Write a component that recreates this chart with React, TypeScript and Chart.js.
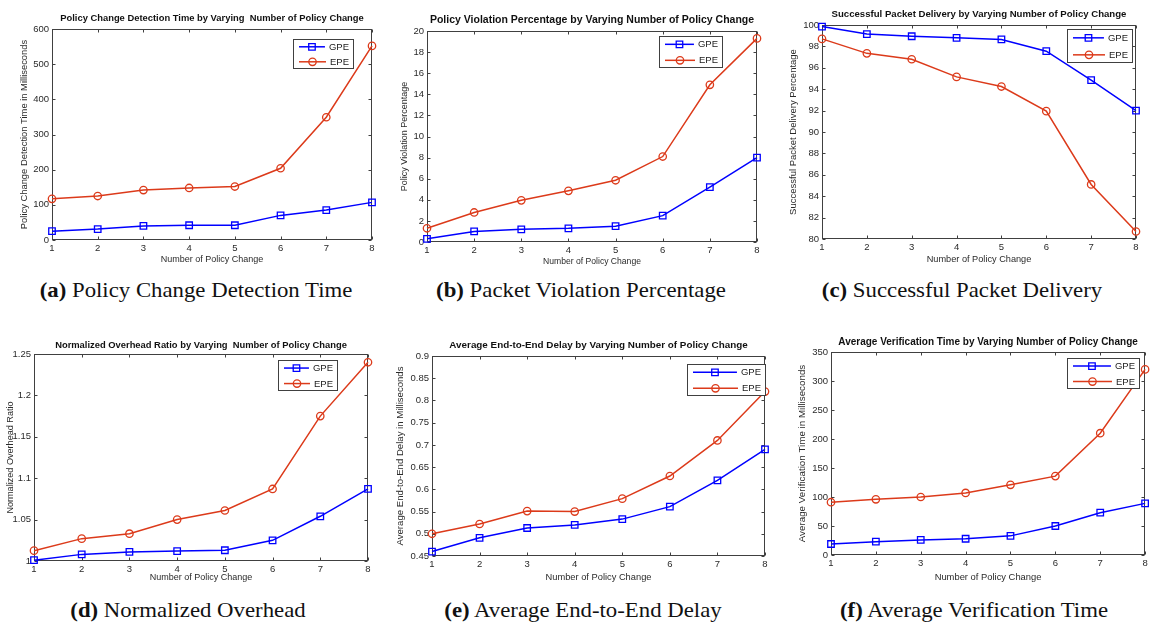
import React, { useEffect, useRef } from 'react';
import { Chart, registerables } from 'chart.js';

Chart.register(...registerables);

// ---------------- data ----------------
const categories = ['1', '2', '3', '4', '5', '6', '7', '8'];
const seriesNames = ['GPE', 'EPE'];

const detectGPE = [25, 31, 40, 42, 42, 70, 85, 107];
const detectEPE = [117, 125, 142, 148, 152, 204, 349, 552];
const detectTicks = [0, 100, 200, 300, 400, 500, 600];

const violationGPE = [0.3, 1.0, 1.2, 1.3, 1.5, 2.5, 5.2, 8.0];
const violationEPE = [1.3, 2.8, 3.95, 4.85, 5.85, 8.1, 14.9, 19.3];
const violationTicks = [0, 2, 4, 6, 8, 10, 12, 14, 16, 18, 20];

const deliveryGPE = [99.85, 99.15, 98.95, 98.8, 98.65, 97.55, 94.85, 92.0];
const deliveryEPE = [98.7, 97.35, 96.8, 95.15, 94.25, 91.95, 85.1, 80.7];
const deliveryTicks = [80, 82, 84, 86, 88, 90, 92, 94, 96, 98, 100];

const overheadGPE = [1.001, 1.008, 1.011, 1.012, 1.013, 1.025, 1.054, 1.087];
const overheadEPE = [1.0125, 1.027, 1.033, 1.05, 1.061, 1.087, 1.175, 1.24];
const overheadTicks = [1, 1.05, 1.1, 1.15, 1.2, 1.25];

const delayGPE = [0.46, 0.491, 0.513, 0.52, 0.533, 0.561, 0.62, 0.69];
const delayEPE = [0.5, 0.522, 0.551, 0.55, 0.579, 0.63, 0.71, 0.82];
const delayTicks = [0.45, 0.5, 0.55, 0.6, 0.65, 0.7, 0.75, 0.8, 0.85, 0.9];

const verifyGPE = [19, 23, 26, 28, 33, 50, 73, 89];
const verifyEPE = [91, 96, 100, 107, 121, 136, 210, 320];
const verifyTicks = [0, 50, 100, 150, 200, 250, 300, 350];

const xAxisTitle = 'Number of Policy Change';

const chartTitles = [
  'Policy Change Detection Time by Varying  Number of Policy Change',
  'Policy Violation Percentage by Varying Number of Policy Change',
  'Successful Packet Delivery by Varying Number of Policy Change',
  'Normalized Overhead Ratio by Varying  Number of Policy Change',
  'Average End-to-End Delay by Varying Number of Policy Change',
  'Average Verification Time by Varying Number of Policy Change',
];

const yAxisTitles = [
  'Policy Change Detection Time in Milliseconds',
  'Policy Violation Percentage',
  'Successful Packet Delivery Percentage',
  'Normalized Overhead Ratio',
  'Average End-to-End Delay in Milliseconds',
  'Average Verification Time in Milliseconds',
];

const captionLetters = ['(a)', '(b)', '(c)', '(d)', '(e)', '(f)'];
const captionTexts = [
  'Policy Change Detection Time',
  'Packet Violation Percentage',
  'Successful Packet Delivery',
  'Normalized Overhead',
  'Average End-to-End Delay',
  'Average Verification Time',
];

const gpeSeries = [detectGPE, violationGPE, deliveryGPE, overheadGPE, delayGPE, verifyGPE];
const epeSeries = [detectEPE, violationEPE, deliveryEPE, overheadEPE, delayEPE, verifyEPE];
const yTickSets = [detectTicks, violationTicks, deliveryTicks, overheadTicks, delayTicks, verifyTicks];

// ---------------- layout (page pixels) ----------------
type Layout = {
  cx: number; cy: number; cw: number; ch: number;
  L: number; T: number; R: number; B: number;
  titleY: number; yTitleX: number; xTitleY: number;
  titleSize: number; yTitleSize: number; xTitleSize: number;
  legend: { x: number; y: number; w: number; h: number };
  capX: number; capY: number;
};

const layouts: Layout[] = [
  { cx: 0, cy: 0, cw: 385, ch: 272, L: 52, T: 29, R: 372, B: 240, titleY: 18, yTitleX: 24, xTitleY: 260,
    titleSize: 9.4, yTitleSize: 9.4, xTitleSize: 9,
    legend: { x: 293, y: 39, w: 61, h: 30 }, capX: 196, capY: 298 },
  { cx: 385, cy: 0, cw: 380, ch: 272, L: 427, T: 31, R: 757, B: 242, titleY: 20, yTitleX: 405, xTitleY: 262,
    titleSize: 10.5, yTitleSize: 9, xTitleSize: 8.6,
    legend: { x: 659, y: 36, w: 64, h: 32 }, capX: 581, capY: 298 },
  { cx: 765, cy: 0, cw: 386, ch: 272, L: 822, T: 25, R: 1136, B: 239, titleY: 14, yTitleX: 793, xTitleY: 259,
    titleSize: 9.6, yTitleSize: 9.5, xTitleSize: 9.2,
    legend: { x: 1067, y: 29, w: 66, h: 34 }, capX: 962, capY: 298 },
  { cx: 0, cy: 328, cw: 385, ch: 262, L: 34, T: 354, R: 368, B: 561, titleY: 345, yTitleX: 10, xTitleY: 578,
    titleSize: 9.4, yTitleSize: 9.1, xTitleSize: 9,
    legend: { x: 278, y: 360, w: 60, h: 31 }, capX: 188, capY: 618 },
  { cx: 385, cy: 328, cw: 387, ch: 262, L: 432, T: 356, R: 765, B: 556, titleY: 345, yTitleX: 400, xTitleY: 577,
    titleSize: 9.85, yTitleSize: 9.6, xTitleSize: 9.3,
    legend: { x: 687, y: 364, w: 79, h: 32 }, capX: 583, capY: 618 },
  { cx: 772, cy: 328, cw: 379, ch: 262, L: 831, T: 352, R: 1148, B: 555, titleY: 342, yTitleX: 802, xTitleY: 577,
    titleSize: 10, yTitleSize: 9.8, xTitleSize: 9.4,
    legend: { x: 1067, y: 358, w: 73, h: 31 }, capX: 974, capY: 618 },
];

const FONT = "'Liberation Sans', Arial, sans-serif";
const GPE_COLOR = '#0000ff';
const EPE_COLOR = '#dc3a1a';
const TICK_SIZE = 9.5;
const LH = 1.2;

// ---------------- plugins ----------------
const framePlugin = {
  id: 'matlabFrame',
  beforeDatasetsDraw(chart: any) {
    const { ctx, chartArea, scales } = chart;
    const l = Math.round(chartArea.left) + 0.5;
    const t = Math.round(chartArea.top) + 0.5;
    const r = Math.round(chartArea.right) - 0.5;
    const b = Math.round(chartArea.bottom) - 0.5;
    ctx.save();
    ctx.strokeStyle = '#404040';
    ctx.lineWidth = 1;
    ctx.strokeRect(l, t, r - l, b - t);
    const tl = 3;
    ctx.beginPath();
    scales.x.ticks.forEach((_t: any, i: number) => {
      const px = Math.round(scales.x.getPixelForTick(i)) + 0.5;
      ctx.moveTo(px, b); ctx.lineTo(px, b - tl);
      ctx.moveTo(px, t); ctx.lineTo(px, t + tl);
    });
    scales.y.ticks.forEach((tk: any) => {
      const py = Math.round(scales.y.getPixelForValue(tk.value)) + 0.5;
      ctx.moveTo(l, py); ctx.lineTo(l + tl, py);
      ctx.moveTo(r, py); ctx.lineTo(r - tl, py);
    });
    ctx.stroke();
    ctx.restore();
  },
};

const insetLegendPlugin = {
  id: 'insetLegend',
  afterDraw(chart: any, _args: any, opts: any) {
    const { ctx } = chart;
    const { x, y, w, h } = opts;
    ctx.save();
    ctx.fillStyle = '#ffffff';
    ctx.fillRect(x, y, w, h);
    ctx.strokeStyle = '#404040';
    ctx.lineWidth = 1;
    ctx.strokeRect(x + 0.5, y + 0.5, w - 1, h - 1);
    ctx.font = `${TICK_SIZE}px ${FONT}`;
    ctx.textBaseline = 'middle';
    ctx.textAlign = 'left';
    chart.data.datasets.forEach((ds: any, i: number) => {
      const rowY = y + h * (0.26 + 0.5 * i);
      const textW = ctx.measureText(ds.label).width;
      const textX = x + w - textW - 5;
      const x0 = x + 6;
      const x1 = textX - 4;
      ctx.strokeStyle = ds.borderColor;
      ctx.lineWidth = 1.5;
      ctx.beginPath();
      ctx.moveTo(x0, rowY); ctx.lineTo(x1, rowY);
      ctx.stroke();
      const mx = (x0 + x1) / 2;
      ctx.lineWidth = 1.3;
      ctx.beginPath();
      if (ds.pointStyle === 'rect') {
        const s = ds.pointRadius * Math.SQRT1_2;
        ctx.rect(mx - s, rowY - s, 2 * s, 2 * s);
      } else {
        ctx.arc(mx, rowY, ds.pointRadius, 0, Math.PI * 2);
      }
      ctx.stroke();
      ctx.fillStyle = '#222222';
      ctx.fillText(ds.label, textX, rowY + 0.5);
    });
    ctx.restore();
  },
};

function fmt(v: number) {
  return String(parseFloat(v.toFixed(3)));
}

function Panel({ idx }: { idx: number }) {
  const ref = useRef<HTMLCanvasElement | null>(null);
  const lay = layouts[idx];
  useEffect(() => {
    if (!ref.current) return;
    const ticks = yTickSets[idx];
    const lhT = lay.titleSize * LH;
    const lhY = lay.yTitleSize * LH;
    const lhX = lay.xTitleSize * LH;
    const titlePadTop = lay.titleY - lay.cy - lhT / 2;
    const titlePadBottom = lay.T - lay.cy - titlePadTop - lhT;
    const yWidth = lay.L - lay.cx;
    const xHeight = lay.cy + lay.ch - lay.B;
    const yTitlePad = lay.yTitleX - lay.cx - lhY / 2;
    const xTitlePad = lay.cy + lay.ch - lay.xTitleY - lhX / 2;
    const chart = new Chart(ref.current, {
      type: 'line',
      data: {
        labels: categories,
        datasets: [
          {
            label: seriesNames[0],
            data: gpeSeries[idx],
            borderColor: GPE_COLOR,
            backgroundColor: GPE_COLOR,
            borderWidth: 1.5,
            pointStyle: 'rect',
            pointRadius: 4.6,
            pointBorderWidth: 1.3,
            pointBackgroundColor: 'rgba(0,0,0,0)',
            pointBorderColor: GPE_COLOR,
            tension: 0,
            clip: false as any,
          },
          {
            label: seriesNames[1],
            data: epeSeries[idx],
            borderColor: EPE_COLOR,
            backgroundColor: EPE_COLOR,
            borderWidth: 1.5,
            pointStyle: 'circle',
            pointRadius: 3.7,
            pointBorderWidth: 1.3,
            pointBackgroundColor: 'rgba(0,0,0,0)',
            pointBorderColor: EPE_COLOR,
            tension: 0,
            clip: false as any,
          },
        ],
      },
      options: {
        responsive: false,
        animation: false,
        devicePixelRatio: 1,
        layout: { padding: { left: 0, top: 0, bottom: 0, right: lay.cx + lay.cw - lay.R } },
        plugins: {
          legend: { display: false },
          tooltip: { enabled: false },
          title: {
            display: true,
            text: chartTitles[idx],
            fullSize: false,
            color: '#111111',
            font: { family: FONT, size: lay.titleSize, weight: 'bold', lineHeight: LH },
            padding: { top: titlePadTop, bottom: titlePadBottom },
          },
          insetLegend: {
            x: lay.legend.x - lay.cx,
            y: lay.legend.y - lay.cy,
            w: lay.legend.w,
            h: lay.legend.h,
          },
        } as any,
        scales: {
          x: {
            type: 'category',
            offset: false,
            grid: { display: false, drawTicks: false },
            border: { display: false },
            ticks: {
              color: '#2a2a2a',
              font: { family: FONT, size: TICK_SIZE },
              padding: 3,
              maxRotation: 0,
              autoSkip: false,
            },
            title: {
              display: true,
              text: xAxisTitle,
              color: '#2a2a2a',
              font: { family: FONT, size: lay.xTitleSize, lineHeight: LH },
              padding: { top: 0, bottom: xTitlePad },
            },
            afterFit: (scale: any) => { scale.height = xHeight; },
          },
          y: {
            type: 'linear',
            min: ticks[0],
            max: ticks[ticks.length - 1],
            grid: { display: false, drawTicks: false },
            border: { display: false },
            afterBuildTicks: (scale: any) => {
              scale.ticks = ticks.map((v) => ({ value: v }));
            },
            ticks: {
              color: '#2a2a2a',
              font: { family: FONT, size: TICK_SIZE },
              padding: 3,
              callback: (v: any) => fmt(Number(v)),
            },
            title: {
              display: true,
              text: yAxisTitles[idx],
              color: '#2a2a2a',
              font: { family: FONT, size: lay.yTitleSize, lineHeight: LH },
              padding: { top: yTitlePad, bottom: 0 },
            },
            afterFit: (scale: any) => { scale.width = yWidth; },
          },
        },
      },
      plugins: [framePlugin, insetLegendPlugin],
    } as any);
    return () => chart.destroy();
  }, [idx]);
  return (
    <canvas
      ref={ref}
      width={lay.cw}
      height={lay.ch}
      style={{ position: 'absolute', left: lay.cx, top: lay.cy, width: lay.cw, height: lay.ch }}
    />
  );
}

function Caption({ idx }: { idx: number }) {
  const lay = layouts[idx];
  const size = 21;
  return (
    <div
      style={{
        position: 'absolute',
        left: lay.capX,
        top: lay.capY - size * 0.84,
        transform: 'translateX(-50%) scaleX(1.085)',
        whiteSpace: 'nowrap',
        fontFamily: "'Liberation Serif', 'Times New Roman', serif",
        fontSize: size,
        lineHeight: 1,
        color: '#111',
      }}
    >
      <span style={{ fontWeight: 'bold' }}>{captionLetters[idx]}</span> {captionTexts[idx]}
    </div>
  );
}

export default function App() {
  return (
    <div style={{ position: 'absolute', left: 0, top: 0, width: 1151, height: 626, background: '#fff', overflow: 'hidden' }}>
      {layouts.map((_, i) => (
        <Panel key={'p' + i} idx={i} />
      ))}
      {layouts.map((_, i) => (
        <Caption key={'c' + i} idx={i} />
      ))}
    </div>
  );
}
